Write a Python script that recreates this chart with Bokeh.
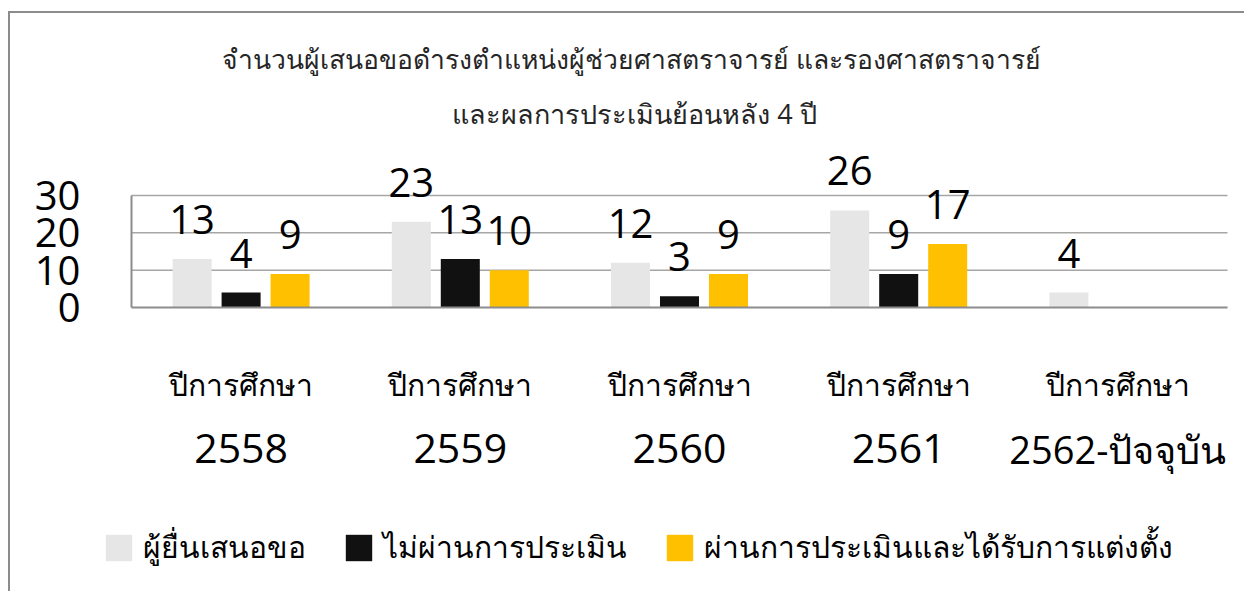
from bokeh.plotting import figure
from bokeh.models import (ColumnDataSource, LabelSet, Label, Legend, LegendItem,
                          FixedTicker, Range1d)
from bokeh.core.properties import value
from bokeh.embed import file_html
from bokeh.resources import INLINE

categories = ["2558", "2559", "2560", "2561", "2562"]
year_labels = ["2558", "2559", "2560", "2561", "2562-ปัจจุบัน"]
category_prefix = "ปีการศึกษา"
submitted = [13, 23, 12, 26, 4]
failed = [4, 13, 3, 9, None]
passed = [9, 10, 9, 17, None]
series_names = ["ผู้ยื่นเสนอขอ", "ไม่ผ่านการประเมิน", "ผ่านการประเมินและได้รับการแต่งตั้ง"]
colors = ["#E6E6E6", "#111111", "#FFC000"]
title_lines = ["จำนวนผู้เสนอขอดำรงตำแหน่งผู้ช่วยศาสตราจารย์ และรองศาสตราจารย์",
               "และผลการประเมินย้อนหลัง 4 ปี"]
y_ticks = [0, 10, 20, 30]

FONT = "Open Sans"

# ---- layout in pixels (canvas coordinates) ----
CANVAS_W, CANVAS_H = 1234, 578
PLOT_LEFT = 121            # where the category axis starts
PLOT_W = 1096              # width taken by the five categories
ZERO_Y = 294               # canvas y of the value 0
PX_PER_UNIT = 112 / 30.0   # 10 units ~ 37 px
n = len(categories)
cat_px = PLOT_W / n

x_start = -PLOT_LEFT / cat_px
x_end = (CANVAS_W - PLOT_LEFT) / cat_px
y_end = ZERO_Y / PX_PER_UNIT
y_start = -(CANVAS_H - ZERO_Y) / PX_PER_UNIT

p = figure(x_range=Range1d(x_start, x_end), y_range=Range1d(y_start, y_end),
           frame_width=CANVAS_W, frame_height=CANVAS_H,
           min_border=0, min_border_left=0, min_border_right=0,
           min_border_top=0, min_border_bottom=0,
           output_backend="svg", toolbar_location=None)
p.styles = {"border-left": "2px solid #8c8c8c", "border-top": "2px solid #8c8c8c",
            "margin-left": "8px", "margin-top": "11px"}
p.outline_line_color = None
p.background_fill_color = "white"
p.xgrid.visible = False
p.ygrid.visible = False
p.xaxis.visible = False

xs = [i + 0.5 for i in range(n)]

# gridlines across the category area
grid_src = ColumnDataSource(dict(y=[t for t in y_ticks if t > 0]))
p.segment(x0=0, x1=n, y0="y", y1="y", source=grid_src, line_color="#a6a6a6", line_width=1.5)

offsets = [-0.2235, 0.0, 0.2235]
series = [submitted, failed, passed]
renderers = []
for vals, off, col in zip(series, offsets, colors):
    tops = [float("nan") if v is None else v for v in vals]
    src = ColumnDataSource(dict(x=[x + off for x in xs], top=tops))
    r = p.vbar(x="x", top="top", width=0.178, source=src, fill_color=col, line_color=None)
    renderers.append(r)
    lx = [x + off for x, v in zip(xs, vals) if v is not None]
    lv = [v for v in vals if v is not None]
    lsrc = ColumnDataSource(dict(x=lx, y=lv, t=[str(v) for v in lv]))
    p.add_layout(LabelSet(x="x", y="y", text="t", source=lsrc, y_offset=25,
                          text_align="center", text_baseline="alphabetic",
                          text_font=value(FONT), text_font_size="40px",
                          text_color="#000000"))

# baseline (category axis)
p.segment(x0=0, x1=n, y0=0, y1=0, line_color="#8c8c8c", line_width=2)

# value axis
yaxis = p.yaxis[0]
yaxis.fixed_location = 0
yaxis.bounds = (0, 30)
yaxis.ticker = FixedTicker(ticks=y_ticks)
yaxis.major_label_text_font = FONT
yaxis.major_label_text_font_size = "40px"
yaxis.major_label_text_color = "#000000"
yaxis.major_tick_line_color = None
yaxis.minor_tick_line_color = None
yaxis.major_label_standoff = 45
yaxis.axis_line_color = "#8c8c8c"
yaxis.axis_line_width = 2

# category labels (two lines)
csrc = ColumnDataSource(dict(x=xs, y=[0] * n, t1=[category_prefix] * n, t2=year_labels,
                             fs=["41px" if len(t) <= 4 else "38px" for t in year_labels]))
p.add_layout(LabelSet(x="x", y="y", text="t1", source=csrc, y_offset=-77,
                      text_align="center", text_baseline="middle", text_font=value(FONT),
                      text_font_size="30px", text_color="#000000"))
p.add_layout(LabelSet(x="x", y="y", text="t2", source=csrc, y_offset=-141,
                      text_align="center", text_baseline="middle", text_font=value(FONT),
                      text_font_size="fs", text_color="#000000"))

# title lines (pixel placement relative to the category area)
def px_to_x(px):
    return px / cat_px

def px_to_y(px_above_zero):
    return px_above_zero / PX_PER_UNIT

p.add_layout(Label(x=px_to_x(500), y=px_to_y(249), text=title_lines[0],
                   text_align="center", text_baseline="middle", text_font=FONT,
                   text_font_size="26.5px", text_color="#262626"))
p.add_layout(Label(x=px_to_x(503), y=px_to_y(194), text=title_lines[1],
                   text_align="center", text_baseline="middle", text_font=FONT,
                   text_font_size="27px", text_color="#262626"))

legend = Legend(items=[LegendItem(label=s, renderers=[r]) for s, r in zip(series_names, renderers)],
                orientation="horizontal", location=(92, 20),
                glyph_width=33, glyph_height=33, label_standoff=8, spacing=36,
                padding=0, margin=0, border_line_color=None, background_fill_alpha=0,
                label_text_font=FONT, label_text_font_size="30px",
                label_text_color="#000000")
p.add_layout(legend, "center")

open("out.html", "w").write(file_html(p, INLINE))
